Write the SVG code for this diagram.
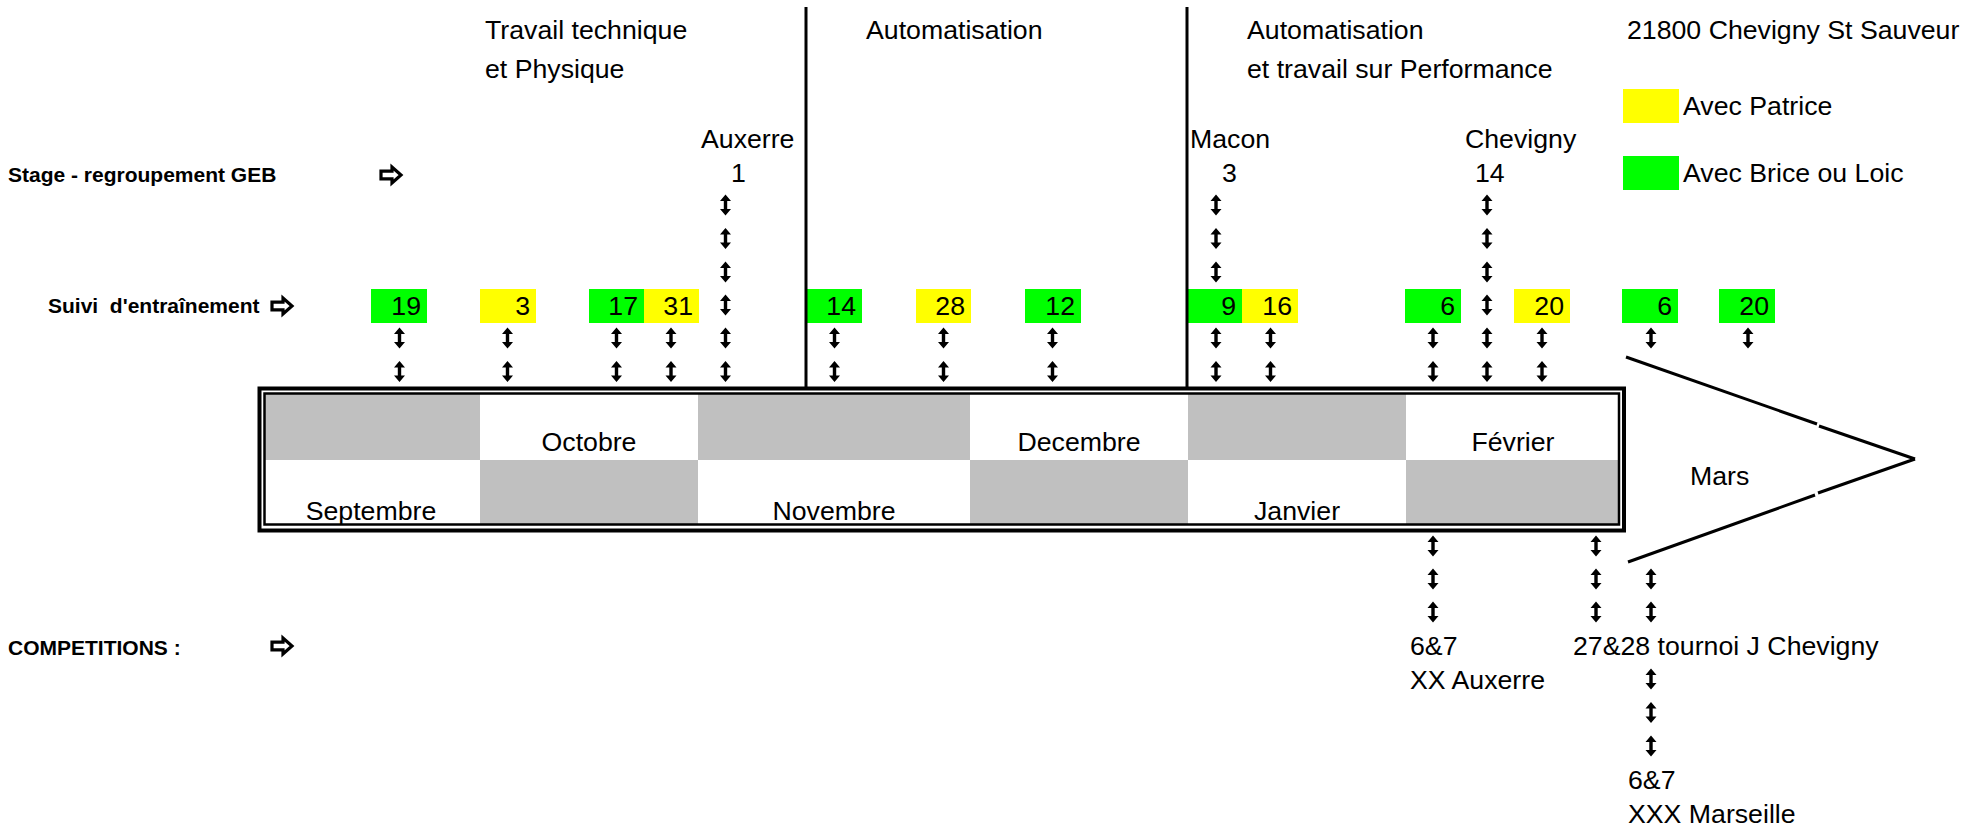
<svg xmlns="http://www.w3.org/2000/svg" xmlns:xlink="http://www.w3.org/1999/xlink" width="1968" height="830" viewBox="0 0 1968 830">
<style>
  .t { font-family: "Liberation Sans", Arial, sans-serif; font-size: 26.7px; fill: #000; }
  .b { font-family: "Liberation Sans", Arial, sans-serif; font-size: 21px; font-weight: bold; fill: #000; }
  .n { font-family: "Liberation Sans", Arial, sans-serif; font-size: 26.7px; fill: #000; text-anchor: end; }
  .m { font-family: "Liberation Sans", Arial, sans-serif; font-size: 26.7px; fill: #000; text-anchor: middle; }
  .g { fill: #00ff00; }
  .y { fill: #ffff00; }
  .gr { fill: #c0c0c0; }
  .ln { stroke: #000; stroke-width: 3; fill: none; }
</style>
<defs>
  <g id="ud">
    <polygon points="0,-10.5 5.5,-4 1.7,-4 1.7,4 5.5,4 0,10.5 -5.5,4 -1.7,4 -1.7,-4 -5.5,-4" fill="#000"/>
  </g>
  <g id="ra">
    <polygon points="-10,-3.8 1,-3.8 1,-8 10,0 1,8 1,3.8 -10,3.8" fill="#fff" stroke="#000" stroke-width="3.2" stroke-linejoin="miter"/>
  </g>
</defs>
<rect width="1968" height="830" fill="#fff"/>

<g id="phases">
  <text class="t" x="485" y="39">Travail technique</text>
  <text class="t" x="485" y="78">et Physique</text>
  <text class="t" x="866" y="39">Automatisation</text>
  <text class="t" x="1247" y="39">Automatisation</text>
  <text class="t" x="1247" y="78">et travail sur Performance</text>
  <text class="t" x="1627" y="39">21800 Chevigny St Sauveur</text>
</g>

<g id="legend">
  <rect class="y" x="1623" y="89" width="56" height="34"/>
  <text class="t" x="1683" y="115">Avec Patrice</text>
  <rect class="g" x="1623" y="156" width="56" height="34"/>
  <text class="t" x="1683" y="182">Avec Brice ou Loic</text>
</g>

<g id="row-labels">
  <text class="b" x="8" y="182">Stage - regroupement GEB</text>
  <use xlink:href="#ra" x="391" y="175"/>
  <text class="b" x="48" y="313" xml:space="preserve">Suivi  d'entraînement</text>
  <use xlink:href="#ra" x="282" y="306"/>
  <text class="b" x="8" y="655">COMPETITIONS :</text>
  <use xlink:href="#ra" x="282" y="646"/>
</g>

<g id="stages">
  <text class="t" x="701" y="148">Auxerre</text>
  <text class="t" x="731" y="182">1</text>
  <text class="t" x="1190" y="148">Macon</text>
  <text class="t" x="1222" y="182">3</text>
  <text class="t" x="1475" y="182">14</text>
  <text class="t" x="1465" y="148">Chevigny</text>
</g>

<g id="dates">
  <g id="d19"><rect class="g" x="371" y="289" width="56" height="34"/><text class="n" x="421" y="315">19</text></g>
  <g id="d3"><rect class="y" x="480" y="289" width="56" height="34"/><text class="n" x="530" y="315">3</text></g>
  <g id="d17"><rect class="g" x="589" y="289" width="55" height="34"/><text class="n" x="638" y="315">17</text></g>
  <g id="d31"><rect class="y" x="644" y="289" width="55" height="34"/><text class="n" x="693" y="315">31</text></g>
  <g id="d14"><rect class="g" x="807" y="289" width="55" height="34"/><text class="n" x="856" y="315">14</text></g>
  <g id="d28"><rect class="y" x="916" y="289" width="55" height="34"/><text class="n" x="965" y="315">28</text></g>
  <g id="d12"><rect class="g" x="1025" y="289" width="56" height="34"/><text class="n" x="1075" y="315">12</text></g>
  <g id="d9"><rect class="g" x="1188" y="289" width="54" height="34"/><text class="n" x="1236" y="315">9</text></g>
  <g id="d16"><rect class="y" x="1242" y="289" width="56" height="34"/><text class="n" x="1292" y="315">16</text></g>
  <g id="d6a"><rect class="g" x="1405" y="289" width="56" height="34"/><text class="n" x="1455" y="315">6</text></g>
  <g id="d20a"><rect class="y" x="1514" y="289" width="56" height="34"/><text class="n" x="1564" y="315">20</text></g>
  <g id="d6b"><rect class="g" x="1622" y="289" width="56" height="34"/><text class="n" x="1672" y="315">6</text></g>
  <g id="d20b"><rect class="g" x="1719" y="289" width="56" height="34"/><text class="n" x="1769" y="315">20</text></g>
</g>

<g id="dividers">
  <line class="ln" x1="806" y1="7" x2="806" y2="388"/>
  <line class="ln" x1="1187" y1="7" x2="1187" y2="388"/>
</g>

<g id="timeline">
  <rect class="gr" x="264" y="393" width="216" height="67"/>
  <rect class="gr" x="698" y="393" width="272" height="67"/>
  <rect class="gr" x="1188" y="393" width="218" height="67"/>
  <rect class="gr" x="480" y="460" width="218" height="65"/>
  <rect class="gr" x="970" y="460" width="218" height="65"/>
  <rect class="gr" x="1406" y="460" width="213" height="65"/>
  <rect x="259.5" y="388.5" width="1364.5" height="142" fill="none" stroke="#000" stroke-width="4"/>
  <rect x="264.5" y="393.5" width="1354.5" height="131" fill="none" stroke="#000" stroke-width="2.5"/>
  <text class="m" x="589" y="451">Octobre</text>
  <text class="m" x="1079" y="451">Decembre</text>
  <text class="m" x="1513" y="451">Février</text>
  <text class="m" x="371" y="520">Septembre</text>
  <text class="m" x="834" y="520">Novembre</text>
  <text class="m" x="1297" y="520">Janvier</text>
</g>

<g id="mars">
  <line class="ln" x1="1626" y1="357" x2="1817" y2="424"/>
  <line class="ln" x1="1819" y1="426" x2="1915" y2="459"/>
  <line class="ln" x1="1915" y1="459" x2="1818" y2="493"/>
  <line class="ln" x1="1815" y1="495" x2="1628" y2="562"/>
  <text class="t" x="1690" y="485">Mars</text>
</g>

<g id="competitions">
  <text class="t" x="1410" y="655">6&amp;7</text>
  <text class="t" x="1410" y="689">XX Auxerre</text>
  <text class="t" x="1573" y="655">27&amp;28 tournoi J Chevigny</text>
  <text class="t" x="1628" y="789">6&amp;7</text>
  <text class="t" x="1628" y="823">XXX Marseille</text>
</g>

<g id="connectors">
  <use xlink:href="#ud" x="399.5" y="338"/><use xlink:href="#ud" x="399.5" y="371.5"/>
  <use xlink:href="#ud" x="507.5" y="338"/><use xlink:href="#ud" x="507.5" y="371.5"/>
  <use xlink:href="#ud" x="616.5" y="338"/><use xlink:href="#ud" x="616.5" y="371.5"/>
  <use xlink:href="#ud" x="671" y="338"/><use xlink:href="#ud" x="671" y="371.5"/>
  <use xlink:href="#ud" x="725.5" y="205"/><use xlink:href="#ud" x="725.5" y="238.5"/><use xlink:href="#ud" x="725.5" y="272"/>
  <use xlink:href="#ud" x="725.5" y="305"/><use xlink:href="#ud" x="725.5" y="338"/><use xlink:href="#ud" x="725.5" y="371.5"/>
  <use xlink:href="#ud" x="834.5" y="338"/><use xlink:href="#ud" x="834.5" y="371.5"/>
  <use xlink:href="#ud" x="943.5" y="338"/><use xlink:href="#ud" x="943.5" y="371.5"/>
  <use xlink:href="#ud" x="1052.5" y="338"/><use xlink:href="#ud" x="1052.5" y="371.5"/>
  <use xlink:href="#ud" x="1216" y="205"/><use xlink:href="#ud" x="1216" y="238.5"/><use xlink:href="#ud" x="1216" y="272"/>
  <use xlink:href="#ud" x="1216" y="338"/><use xlink:href="#ud" x="1216" y="371.5"/>
  <use xlink:href="#ud" x="1270.5" y="338"/><use xlink:href="#ud" x="1270.5" y="371.5"/>
  <use xlink:href="#ud" x="1433" y="338"/><use xlink:href="#ud" x="1433" y="371.5"/>
  <use xlink:href="#ud" x="1487" y="205"/><use xlink:href="#ud" x="1487" y="238.5"/><use xlink:href="#ud" x="1487" y="272"/>
  <use xlink:href="#ud" x="1487" y="305"/><use xlink:href="#ud" x="1487" y="338"/><use xlink:href="#ud" x="1487" y="371.5"/>
  <use xlink:href="#ud" x="1542" y="338"/><use xlink:href="#ud" x="1542" y="371.5"/>
  <use xlink:href="#ud" x="1651" y="338"/>
  <use xlink:href="#ud" x="1748" y="338"/>
  <use xlink:href="#ud" x="1433" y="546"/><use xlink:href="#ud" x="1433" y="579"/><use xlink:href="#ud" x="1433" y="612"/>
  <use xlink:href="#ud" x="1596" y="546"/><use xlink:href="#ud" x="1596" y="579"/><use xlink:href="#ud" x="1596" y="612"/>
  <use xlink:href="#ud" x="1651" y="579"/><use xlink:href="#ud" x="1651" y="612"/>
  <use xlink:href="#ud" x="1651" y="679"/><use xlink:href="#ud" x="1651" y="712.5"/><use xlink:href="#ud" x="1651" y="746"/>
</g>
</svg>
